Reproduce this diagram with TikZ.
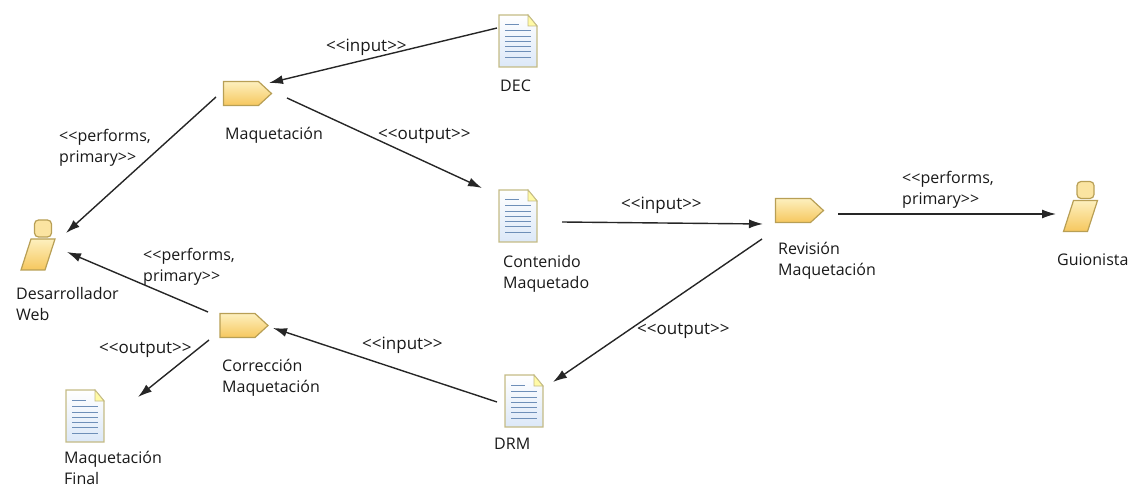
\documentclass[tikz,border=0pt]{standalone}
\usepackage{fontspec}
\setmainfont{Open Sans}
\usetikzlibrary{arrows.meta, positioning}
\definecolor{tagedge}{HTML}{B89F55}
\definecolor{tagtop}{HTML}{FDF0BE}
\definecolor{tagbot}{HTML}{F6C75E}
\definecolor{docedge}{HTML}{C4BB85}
\definecolor{docline}{HTML}{6E8FB8}
\definecolor{docbot}{HTML}{DCE8F8}
\tikzset{
  rel/.style={draw=black!85, line width=1.4pt, -{Latex[length=14pt,width=9pt]}},
  lbl/.style={anchor=west, align=left, inner sep=0pt, font=\fontsize{16}{21}\selectfont, text=black!90},
  rellbl/.style={lbl, font=\fontsize{17}{21}\selectfont},
  iconbox/.style={inner sep=0pt, minimum width=#1, minimum height=#1},
  tagicon/.pic={
    \draw[tagedge, line width=1.2pt, top color=tagtop, bottom color=tagbot]
      (-24,-12) -- (11,-12) -- (24,0) -- (11,12) -- (-24,12) -- cycle;
  },
  docicon/.pic={
    \draw[docedge, line width=1.2pt, top color=white, bottom color=docbot]
      (-19,-26) -- (10,-26) -- (19,-15) -- (19,26) -- (-19,26) -- cycle;
    \draw[docedge, line width=0.8pt, fill=yellow!35] (10,-26) -- (10,-15) -- (19,-15) -- cycle;
    \draw[docline, line width=1pt] (-13,-16) -- (1,-16);
    \foreach \row in {-10,-4,1,6,11,17}
      \draw[docline, line width=1pt] (-13,\row) -- (13,\row);
  },
  personicon/.pic={
    \draw[tagedge, line width=1.2pt, top color=tagtop, bottom color=tagbot]
      (-6.5,-6.5) -- (17.5,-6.5) -- (7.5,24.5) -- (-16.5,24.5) -- cycle;
    \draw[tagedge, line width=1.2pt, fill=tagtop!70!tagbot, rounded corners=4pt]
      (-3,-25.5) rectangle (14,-8.5);
  }
}
\begin{document}
\begin{tikzpicture}[x=1pt,y=-1pt]
  \useasboundingbox (0,0) rectangle (1133,489);

  % Tareas
  \node[iconbox=24pt] (maq) at (247.5,93.5) {};
  \node[iconbox=24pt] (rev) at (799.5,210.5) {};
  \node[iconbox=24pt] (cor) at (244,325.5) {};
  \pic at (maq) {tagicon};
  \pic at (rev) {tagicon};
  \pic at (cor) {tagicon};

  % Documentos
  \node[iconbox=38pt] (dec) at (518,41) {};
  \node[iconbox=38pt] (cont) at (518,216) {};
  \node[iconbox=38pt] (drm) at (524,401) {};
  \node[iconbox=38pt] (fin) at (85,416) {};
  \pic at (dec) {docicon};
  \pic at (cont) {docicon};
  \pic at (drm) {docicon};
  \pic at (fin) {docicon};

  % Roles
  \node[iconbox=36pt] (dev) at (37.5,245.5) {};
  \node[iconbox=36pt] (guion) at (1080,207) {};
  \pic at (dev) {personicon};
  \pic at (guion) {personicon};

  % Relaciones
  \draw[rel] ([shift={(-21,-13)}]dec.center) -- ([shift={(21.5,-10.5)}]maq.center);
  \draw[rel] ([shift={(39.5,4.5)}]maq.center) -- ([shift={(-36,-28)}]cont.center);
  \draw[rel] ([shift={(-31.5,3.5)}]maq.center) -- ([shift={(28.5,-12.5)}]dev.center);
  \draw[rel] ([shift={(44,6)}]cont.center) -- ([shift={(-36.5,13.5)}]rev.center);
  \draw[rel] ([shift={(38.5,3.5)}]rev.center) -- ([shift={(-24,7)}]guion.center);
  \draw[rel] ([shift={(-37.5,28.5)}]rev.center) -- ([shift={(29,-19)}]drm.center);
  \draw[rel] ([shift={(-27,1)}]drm.center) -- ([shift={(29,2.5)}]cor.center);
  \draw[rel] ([shift={(-36,-13.5)}]cor.center) -- ([shift={(29.5,6.5)}]dev.center);
  \draw[rel] ([shift={(-35,14.5)}]cor.center) -- ([shift={(53,-19)}]fin.center);

  % Textos
  \node[rellbl] (t1) at (326,47) {<{}<input>{}>};
  \node[lbl] (t2) at (500,86) {DEC};
  \node[lbl] (t3) at (225,135) {Maquetación};
  \node[rellbl] (t4) at (378,136) {<{}<output>{}>};
  \node[lbl] (t5) at (59,148) {<{}<performs,\\primary>{}>};
  \node[lbl] (t6) at (503,274) {Contenido\\Maquetado};
  \node[rellbl] (t7) at (621,205) {<{}<input>{}>};
  \node[lbl] (t8) at (902,190) {<{}<performs,\\primary>{}>};
  \node[lbl] (t9) at (778,261) {Revisión\\Maquetación};
  \node[lbl] (t10) at (1057,260) {Guionista};
  \node[rellbl] (t11) at (637,331) {<{}<output>{}>};
  \node[lbl] (t12) at (494,444) {DRM};
  \node[rellbl] (t13) at (362,345) {<{}<input>{}>};
  \node[lbl] (t14) at (222,378) {Corrección\\Maquetación};
  \node[rellbl] (t15) at (99,350) {<{}<output>{}>};
  \node[lbl] (t16) at (143,267) {<{}<performs,\\primary>{}>};
  \node[lbl] (t17) at (16,304) {Desarrollador\\Web};
  \node[lbl] (t18) at (64,468) {Maquetación\\Final};
\end{tikzpicture}
\end{document}
